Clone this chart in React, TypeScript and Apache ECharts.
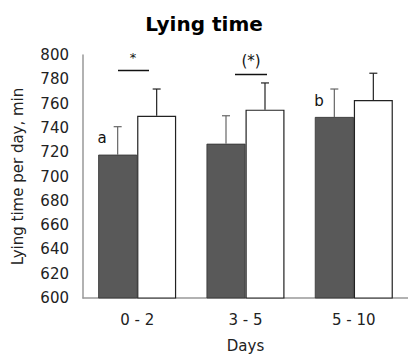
import React, { useEffect, useRef } from "react";
import * as echarts from "echarts";

const categories = ["0 - 2", "3 - 5", "5 - 10"];
const darkValues = [718, 727, 749];
const whiteValues = [750, 755, 763];
const darkErrors = [23, 23, 23];
const whiteErrors = [22, 22, 22];

const FONT = "DejaVu Sans, Liberation Sans, sans-serif";

export default function App() {
  const ref = useRef<HTMLDivElement>(null);
  useEffect(() => {
    if (!ref.current) return;
    const chart = echarts.init(ref.current, null, { renderer: "svg" });

    const errorSeries = (values: number[], errs: number[], side: number, color: string) => ({
      type: "custom",
      z: 5,
      silent: true,
      data: values.map((v, i) => [i, v, v + errs[i]]),
      renderItem: (params: any, api: any) => {
        const i = api.value(0);
        const base = api.coord([i, api.value(1)]);
        const top = api.coord([i, api.value(2)]);
        const band = api.size([1, 0])[0];
        const bw = band * 0.36;
        const x = base[0] + side * bw / 2;
        const half = 4;
        return {
          type: "group",
          children: [
            { type: "line", shape: { x1: x, y1: base[1], x2: x, y2: top[1] }, style: { stroke: color, lineWidth: 1.2 } },
            { type: "line", shape: { x1: x - half, y1: top[1], x2: x + half, y2: top[1] }, style: { stroke: color, lineWidth: 1.2 } },
          ],
        };
      },
    });

    chart.setOption({
      animation: false,
      textStyle: { fontFamily: FONT },
      title: {
        text: "Lying time",
        left: "center",
        top: 9,
        textStyle: { fontFamily: FONT, fontSize: 20, fontWeight: "bold", color: "#000" },
      },
      grid: { left: 83, right: -3, top: 55, bottom: 59.5 },
      xAxis: {
        type: "category",
        data: categories,
        name: "Days",
        nameLocation: "middle",
        nameGap: 40,
        nameTextStyle: { fontFamily: FONT, fontSize: 15, color: "#222" },
        axisLine: { lineStyle: { color: "#999", width: 1.5 } },
        axisTick: { show: false },
        axisLabel: { fontFamily: FONT, fontSize: 15, color: "#222", margin: 14 },
      },
      yAxis: {
        type: "value",
        min: 600,
        max: 800,
        interval: 20,
        name: "Lying time per day, min",
        nameLocation: "middle",
        nameGap: 58,
        nameTextStyle: { fontFamily: FONT, fontSize: 15, color: "#222" },
        axisLine: { show: true, lineStyle: { color: "#999", width: 1.5 } },
        axisTick: { show: false },
        splitLine: { show: false },
        axisLabel: { fontFamily: FONT, fontSize: 15, color: "#222", margin: 14 },
      },
      series: [
        {
          type: "bar",
          data: darkValues,
          barWidth: "36%",
          barGap: "0%",
          itemStyle: { color: "#595959", borderColor: "#333", borderWidth: 0.8 },
        },
        {
          type: "bar",
          data: whiteValues,
          barWidth: "36%",
          itemStyle: { color: "#fff", borderColor: "#222", borderWidth: 1.2 },
        },
        errorSeries(darkValues, darkErrors, -1, "#666"),
        errorSeries(whiteValues, whiteErrors, 1, "#222"),
      ],
      graphic: [
        { type: "text", x: 102, y: 138, style: { text: "a", font: `15px ${FONT}`, fill: "#111", align: "center", verticalAlign: "middle" } },
        { type: "text", x: 319, y: 101, style: { text: "b", font: `15px ${FONT}`, fill: "#111", align: "center", verticalAlign: "middle" } },
        { type: "text", x: 133, y: 57, style: { text: "*", font: `13px ${FONT}`, fill: "#111", align: "center", verticalAlign: "middle" } },
        { type: "line", shape: { x1: 118, y1: 70.5, x2: 149, y2: 70.5 }, style: { stroke: "#111", lineWidth: 1.5 } },
        { type: "text", x: 251, y: 61, style: { text: "(*)", font: `15px ${FONT}`, fill: "#111", align: "center", verticalAlign: "middle" } },
        { type: "line", shape: { x1: 235, y1: 74.5, x2: 267, y2: 74.5 }, style: { stroke: "#111", lineWidth: 1.5 } },
      ],
    });
    return () => chart.dispose();
  }, []);
  return <div ref={ref} style={{ width: 408, height: 358, position: "absolute", left: 0, top: 0 }} />;
}
